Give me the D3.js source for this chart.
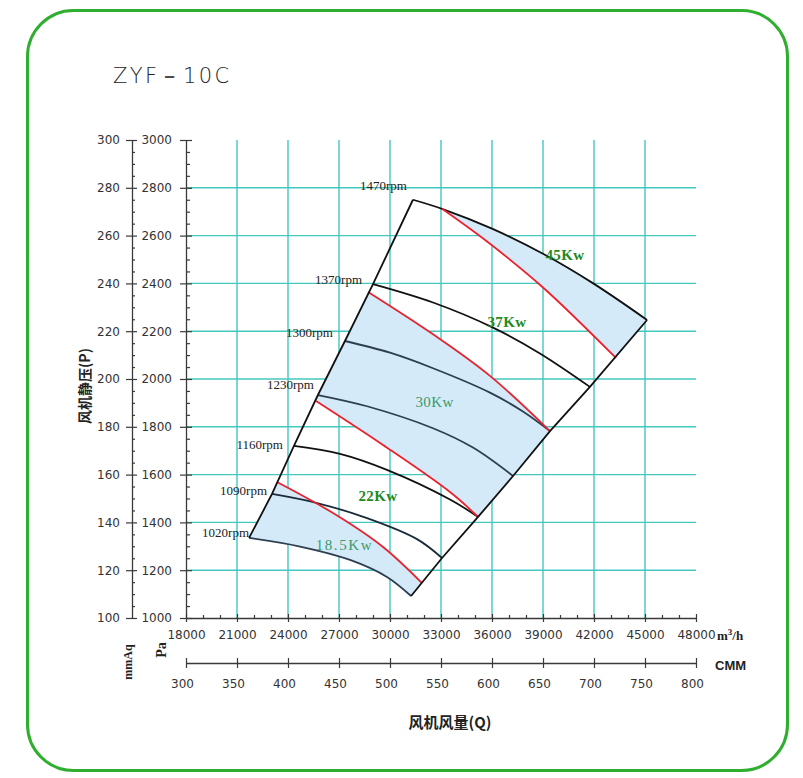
<!DOCTYPE html>
<html><head><meta charset="utf-8">
<script src="https://cdn.jsdelivr.net/npm/d3@7/dist/d3.min.js"></script>
<style>body{margin:0;background:#fff;} svg{display:block;}</style>
</head><body><svg id="c" width="803" height="778"></svg>
<script>
// ---------------- data ----------------
const chartTitle = "ZYF－10C";
const flowTicks = [18000,21000,24000,27000,30000,33000,36000,39000,42000,45000,48000];
const paTicks = [1000,1200,1400,1600,1800,2000,2200,2400,2600,2800,3000];
const mmAqTicks = [100,120,140,160,180,200,220,240,260,280,300];
const cmmTicks = [300,350,400,450,500,550,600,650,700,750,800];

const rpmNames = ["1470rpm","1370rpm","1300rpm","1230rpm","1160rpm","1090rpm","1020rpm"];
const curve1470 = [[31350,2750],[33060,2712],[36000,2629],[39000,2524],[42000,2398],[45120,2247]];
const curve1370 = [[29000,2397],[32530,2320],[36060,2215],[38820,2107],[41760,1967]];
const curve1300 = [[27350,2159],[30000,2110],[32530,2045],[35880,1943],[37820,1864],[39410,1782]];
const curve1230 = [[25760,1933],[28650,1886],[32530,1794],[34880,1713],[37240,1594]];
const curve1160 = [[24350,1720],[27060,1687],[29820,1620],[33530,1496],[35180,1423]];
const curve1090 = [[23060,1519],[25710,1481],[28650,1418],[31590,1330],[33060,1251]];
const curve1020 = [[21710,1335],[24710,1299],[27650,1243],[29820,1172],[31240,1092]];

const powerNames = ["18.5Kw","22Kw","30Kw","37Kw","45Kw"];
const limit185 = [[23350,1569],[26650,1439],[29590,1297],[31880,1146]];
const limit22 = [[25650,1908],[29590,1724],[33530,1527],[35180,1423]];
const limit30 = [[28710,2364],[32530,2187],[35880,2013],[39410,1782]];
const limit37 = [[33060,2712],[35710,2575],[39000,2383],[43290,2088]];
const powerLabelAt = [[27320,1284],[29290,1489],[32620,1882],[36880,2216],[40290,2496]];

// ---------------- styles / layout ----------------
const svg = d3.select("#c");
const W = 803, H = 778;
const x = d3.scaleLinear().domain([18000,48000]).range([186,696]);
const y = d3.scaleLinear().domain([1000,3000]).range([618,140]);
const yMm = d3.scaleLinear().domain([100,300]).range([618,140]);
const xCmm = d3.scaleLinear().domain([300,800]).range([186,696]);
const gridColor = "#43c7bf";
const axisColor = "#3a3a3a";
const tickFont = "'DejaVu Sans', Verdana, sans-serif";
const fillBlue = "#d5eaf8";
const fmt = d3.format("d");

svg.append("rect").attr("width",W).attr("height",H).attr("fill","#fff");
// green rounded border
svg.append("rect").attr("x",27.5).attr("y",10.5).attr("width",760).attr("height",760)
  .attr("rx",46).attr("ry",46).attr("fill","none").attr("stroke","#2fae2f").attr("stroke-width",3);

// title
svg.append("text").attr("x",113).attr("y",83).text(chartTitle)
  .attr("font-family","'DejaVu Sans', sans-serif").attr("font-size",21).attr("letter-spacing",2.4)
  .attr("fill","#222").attr("font-weight",200);

// grid
const g = svg.append("g");
g.selectAll(".vg").data(flowTicks.filter(d=>d>18000 && d<48000)).enter().append("line")
  .attr("x1",d=>x(d)).attr("x2",d=>x(d)).attr("y1",y(3000)).attr("y2",y(1000))
  .attr("stroke",gridColor).attr("stroke-width",1.4);
g.selectAll(".hg").data(paTicks.filter(d=>d>1000 && d<3000)).enter().append("line")
  .attr("x1",x(18000)).attr("x2",x(48000)).attr("y1",d=>y(d)).attr("y2",d=>y(d))
  .attr("stroke",gridColor).attr("stroke-width",1.4);

// shaded power zones
const line = d3.line().x(d=>x(d[0])).y(d=>y(d[1])).curve(d3.curveCatmullRom.alpha(0.5));
function zone(a,b){ return line(a) + line(b.slice().reverse()).replace(/^M/,"L") + "Z"; }
const zones = [ [curve1020, limit185], [limit22, limit30], [curve1470.slice(1), limit37] ];
svg.append("g").selectAll("path").data(zones).enter().append("path")
  .attr("d",d=>zone(d[0],d[1])).attr("fill",fillBlue).attr("stroke","none");

// fan curves
const curves = [curve1470,curve1370,curve1300,curve1230,curve1160,curve1090,curve1020];
const curveColors = ["#111","#111","#2c3e50","#2c3e50","#111","#1c2b3a","#2c3e50"];
svg.append("g").selectAll("path").data(curves).enter().append("path")
  .attr("d",line).attr("fill","none").attr("stroke",(d,i)=>curveColors[i]).attr("stroke-width",1.8);

// power limit lines
const limits = [limit185,limit22,limit30,limit37];
svg.append("g").selectAll("path").data(limits).enter().append("path")
  .attr("d",line).attr("fill","none").attr("stroke","#e8232f").attr("stroke-width",1.8);

// boundaries
const starts = curves.map(c=>c[0]);
const ends = curves.map(c=>c[c.length-1]);
const straight = d3.line().x(d=>x(d[0])).y(d=>y(d[1]));
svg.append("path").attr("d",straight(starts)).attr("fill","none").attr("stroke","#111").attr("stroke-width",1.8);
svg.append("path").attr("d",straight(ends)).attr("fill","none").attr("stroke","#111").attr("stroke-width",1.8);

// rpm labels
const rpmOffsets = [[-6,-10],[-11,0],[-12,-4],[-4,-6],[-11,3],[-5,1],[0,-1]];
svg.append("g").selectAll("text").data(rpmNames).enter().append("text")
  .attr("x",(d,i)=>x(starts[i][0])+rpmOffsets[i][0]).attr("y",(d,i)=>y(starts[i][1])+rpmOffsets[i][1])
  .attr("text-anchor","end").attr("font-family","'Liberation Serif', serif").attr("font-size",13)
  .attr("fill","#222").text(d=>d);

// power labels
const pwColors = ["#3a9a6a","#1f8a1f","#3a9a6a","#1f8a1f","#1f8a1f"];
const pwWeights = ["normal","bold","normal","bold","bold"];
svg.append("g").selectAll("text").data(powerNames).enter().append("text")
  .attr("x",(d,i)=>x(powerLabelAt[i][0])).attr("y",(d,i)=>y(powerLabelAt[i][1]))
  .attr("text-anchor","middle").attr("font-family","'Liberation Serif', serif").attr("font-size",15)
  .attr("letter-spacing",(d,i)=>i===0?1.6:0.4)
  .attr("font-weight",(d,i)=>pwWeights[i]).attr("fill",(d,i)=>pwColors[i]).text(d=>d);

// axes
function styleAxis(sel){
  sel.selectAll("path").attr("stroke",axisColor).attr("stroke-width",1.3);
  sel.selectAll("line").attr("stroke",axisColor).attr("stroke-width",1.2);
  sel.selectAll("text").attr("font-family",tickFont).attr("font-size",12).attr("fill","#333");
}
// Pa axis
const aPa = svg.append("g").attr("transform","translate(186,0)")
  .call(d3.axisLeft(y).tickValues(paTicks).tickFormat(fmt).tickSize(6).tickPadding(8).tickSizeOuter(0));
aPa.selectAll(".tick line").attr("x1",6);
styleAxis(aPa);
const aPaMinor = svg.append("g").attr("transform","translate(186,0)")
  .call(d3.axisRight(y).tickValues(d3.range(1050,3000,50).filter(v=>v%200!==0)).tickSize(4).tickFormat(""));
aPaMinor.select("path").remove();
styleAxis(aPaMinor);
// mmAq axis
const aMm = svg.append("g").attr("transform","translate(132,0)")
  .call(d3.axisLeft(yMm).tickValues(mmAqTicks).tickFormat(fmt).tickSize(6).tickPadding(6).tickSizeOuter(0));
aMm.selectAll(".tick line").attr("x1",5);
styleAxis(aMm);
const aMmMinor = svg.append("g").attr("transform","translate(132,0)")
  .call(d3.axisRight(yMm).tickValues(d3.range(105,300,5).filter(v=>v%20!==0)).tickSize(3).tickFormat(""));
aMmMinor.select("path").remove();
styleAxis(aMmMinor);
// flow axis
const aQ = svg.append("g").attr("transform","translate(0,618)")
  .call(d3.axisBottom(x).tickValues(flowTicks).tickFormat(fmt).tickSize(4).tickPadding(8).tickSizeOuter(0));
aQ.selectAll(".tick line").attr("y1",-4);
styleAxis(aQ);
const aQMinor = svg.append("g").attr("transform","translate(0,618)")
  .call(d3.axisTop(x).tickValues(d3.range(19000,48000,1000).filter(v=>v%3000!==0)).tickSize(3).tickFormat(""));
aQMinor.select("path").remove();
styleAxis(aQMinor);
// CMM axis
const aC = svg.append("g").attr("transform","translate(0,663)")
  .call(d3.axisBottom(xCmm).tickValues(cmmTicks).tickFormat(fmt).tickSize(5).tickPadding(11).tickSizeOuter(0));
aC.selectAll(".tick line").attr("y1",-5);
styleAxis(aC);
aC.selectAll(".tick text").attr("dx",-4);

// unit labels
const unitFont = "'Liberation Serif', serif";
const mh = svg.append("text").attr("x",717).attr("y",640).attr("font-family",unitFont)
  .attr("font-weight","bold").attr("font-size",13).attr("fill","#222");
mh.append("tspan").text("m");
mh.append("tspan").attr("dy",-5).attr("font-size",9).text("3");
mh.append("tspan").attr("dy",5).text("/h");
svg.append("text").attr("x",715).attr("y",670).attr("font-family","'Liberation Sans', Arial, sans-serif")
  .attr("font-weight","bold").attr("font-size",13).attr("fill","#222").text("CMM");
svg.append("text").attr("transform","translate(166,650) rotate(-90)").attr("text-anchor","middle")
  .attr("font-family",unitFont).attr("font-weight","bold").attr("font-size",14).attr("fill","#222").text("Pa");
svg.append("text").attr("transform","translate(132,662) rotate(-90)").attr("text-anchor","middle")
  .attr("font-family",unitFont).attr("font-weight","bold").attr("font-size",12).attr("fill","#222").text("mmAq");

// axis titles
svg.append("text").attr("transform","translate(90,386) rotate(-90)").attr("text-anchor","middle")
  .attr("font-family","'Noto Sans CJK SC', sans-serif").attr("font-weight","bold").attr("font-size",14)
  .attr("fill","#222").text("风机静压(P)");
svg.append("text").attr("x",450).attr("y",728).attr("text-anchor","middle")
  .attr("font-family","'Noto Sans CJK SC', sans-serif").attr("font-weight","bold").attr("font-size",15)
  .attr("fill","#222").text("风机风量(Q)");
</script></body></html>
